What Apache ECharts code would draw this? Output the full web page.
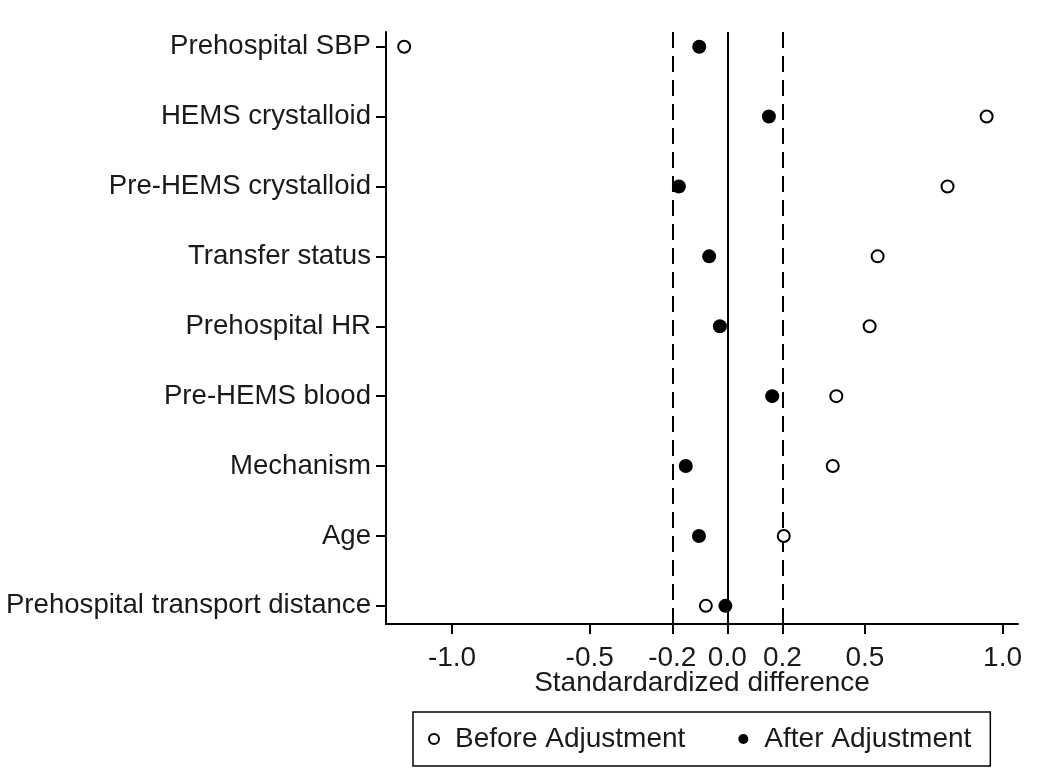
<!DOCTYPE html>
<html lang="en">
<head>
    <meta charset="UTF-8">
    <title>Standardized difference</title>
    <script src="https://cdn.jsdelivr.net/npm/echarts@6/dist/echarts.min.js"></script>
</head>
<body style="margin:0;background:#fff;">
<div id="main" style="width:1050px;height:768px;"></div>

<script type="text/javascript">
    // covariates, bottom to top (index = y position)
    var covariates = ['Prehospital transport distance', 'Age', 'Mechanism', 'Pre-HEMS blood',
        'Prehospital HR', 'Transfer status', 'Pre-HEMS crystalloid', 'HEMS crystalloid', 'Prehospital SBP'];
    var beforeAdj = [-0.078, 0.205, 0.383, 0.396, 0.517, 0.546, 0.800, 0.942, -1.174];
    var afterAdj = [-0.007, -0.103, -0.151, 0.163, -0.027, -0.066, -0.176, 0.151, -0.102];
    var xTicks = [-1.0, -0.5, -0.2, 0.0, 0.2, 0.5, 1.0];
    var yTicks = [0, 1, 2, 3, 4, 5, 6, 7, 8];

    var font = 'Liberation Sans, Arial, sans-serif';
    var myChart = echarts.init(document.getElementById('main'));

    function pts(vals) {
        return vals.map(function (v, i) { return [v, i]; });
    }

    myChart.setOption({
        animation: false,
        textStyle: {fontFamily: font, color: '#1a1a1a'},
        grid: {left: 386, right: 32, top: 32, bottom: 144, outerBoundsMode: 'none'},
        legend: {
            left: 413, top: 712,
            padding: [13, 19, 13, 15],
            borderColor: '#000', borderWidth: 1.5,
            itemGap: 53, itemWidth: 10, itemHeight: 10,
            icon: 'circle',
            textStyle: {fontSize: 28, fontFamily: font, color: '#1a1a1a', padding: [0, 0, 0, 11]},
            data: ['Before Adjustment', 'After Adjustment']
        },
        xAxis: {
            type: 'value',
            min: -1.24, max: 1.056,
            name: 'Standardardized difference',
            nameLocation: 'middle', nameGap: 45,
            nameMoveOverlap: false,
            nameTextStyle: {fontSize: 28, fontFamily: font, color: '#1a1a1a'},
            splitLine: {show: false},
            axisLine: {onZero: false, lineStyle: {color: '#000', width: 2}},
            axisTick: {customValues: xTicks, length: 10, lineStyle: {color: '#000', width: 2}},
            axisLabel: {
                customValues: xTicks, fontSize: 28, margin: 20, color: '#1a1a1a',
                formatter: function (v) { return v.toFixed(1); }
            }
        },
        yAxis: {
            type: 'value',
            min: -0.26, max: 8.21,
            splitLine: {show: false},
            axisLine: {show: true, onZero: false, lineStyle: {color: '#000', width: 2}},
            axisTick: {show: true, customValues: yTicks, length: 10,
                lineStyle: {color: '#000', width: 2}},
            axisLabel: {
                customValues: yTicks, fontSize: 27.6, margin: 15, color: '#1a1a1a',
                formatter: function (v) { return covariates[Math.round(v)]; }
            }
        },
        series: [
            {
                name: 'Before Adjustment',
                type: 'scatter',
                symbol: 'circle',
                symbolSize: 12,
                itemStyle: {color: '#fff', borderColor: '#000', borderWidth: 2, opacity: 1},
                data: pts(beforeAdj),
                z: 3
            },
            {
                name: 'After Adjustment',
                type: 'scatter',
                symbol: 'circle',
                symbolSize: 14,
                itemStyle: {color: '#000', opacity: 1},
                data: pts(afterAdj),
                z: 3,
                markLine: {
                    silent: true,
                    symbol: 'none',
                    label: {show: false},
                    z: 1,
                    data: [
                        {xAxis: -0.2, lineStyle: {color: '#000', width: 2, type: [16, 8]}},
                        {xAxis: 0, lineStyle: {color: '#000', width: 2, type: 'solid'}},
                        {xAxis: 0.2, lineStyle: {color: '#000', width: 2, type: [16, 8]}}
                    ]
                }
            }
        ]
    });
</script>
</body>
</html>
